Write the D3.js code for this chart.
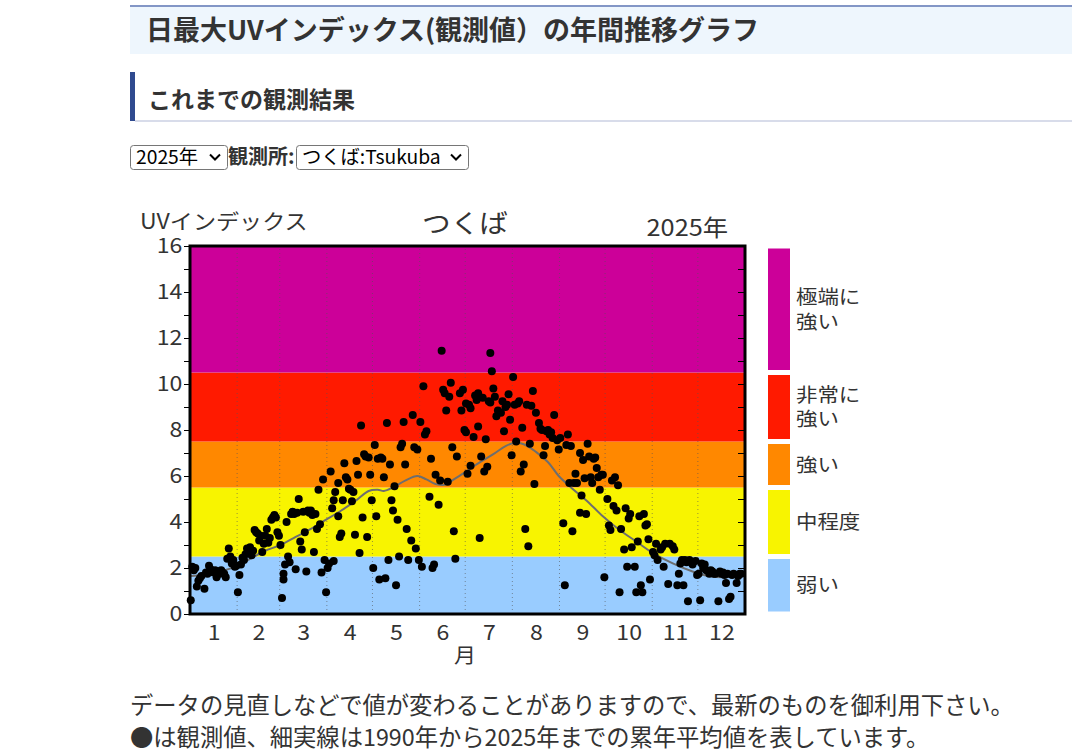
<!DOCTYPE html>
<html><head><meta charset="utf-8">
<script src="https://cdn.jsdelivr.net/npm/d3@7"></script>
<style>
html,body{margin:0;padding:0;background:#fff;}
svg{display:block;}
</style></head><body>
<svg id="c" width="1072" height="751"></svg>
<script>
// ---------- data ----------
const monthLabels = ["1","2","3","4","5","6","7","8","9","10","11","12"];
const monthStarts = [0,31,59,90,120,151,181,212,243,273,304,334,365];
const yTicks = d3.range(0, 17);
const bandLimits = [0, 2.5, 5.5, 7.5, 10.5, 16];
const bandColors = ["#99ccff", "#f8f400", "#ff8800", "#ff1a00", "#cc0099"];
const bandLabels = [["弱い"], ["中程度"], ["強い"], ["非常に","強い"], ["極端に","強い"]];

// observed daily max UV index (day of year, value)
const obsDays = [1,2,3,4,5,6,7,8,10,11,12,13,14,15,16,17,18,19,20,21,22,23,24,25,26,27,28,29,30,31,32,33,
34,35,36,37,38,39,40,41,42,43,44,45,46,47,48,49,50,51,52,53,54,55,56,57,58,59,60,61,62,62,63,
64,65,66,67,68,69,70,71,72,73,74,75,76,77,78,79,80,81,82,83,84,85,86,87,88,89,90,91,92,
93,94,95,95,96,98,98,99,100,101,102,103,104,105,106,107,108,109,110,111,112,113,114,115,116,117,118,119,120,121,122,123,124,125,126,127,128,129,130,131,132,133,134,135,136,137,138,139,140,141,142,143,144,146,147,148,149,150,151,152,153,154,155,156,158,159,160,161,162,164,165,166,167,168,169,170,171,172,173,174,175,176,178,179,180,181,182,183,
182,184,185,185,187,188,189,190,190,191,192,193,194,195,196,197,198,198,199,200,201,202,203,205,206,207,208,209,210,211,212,213,214,215,216,217,218,219,220,221,222,223,224,225,226,227,228,230,231,232,233,234,235,236,237,238,239,240,242,243,244,246,247,248,249,250,251,252,253,254,255,257,257,258,259,260,261,262,263,264,265,266,267,268,269,270,271,272,273,275,276,277,278,279,280,281,282,283,284,286,287,288,289,290,291,293,294,295,296,297,298,299,300,301,302,303,305,306,307,308,310,311,312,313,315,316,318,319,321,322,323,324,325,326,327,328,329,330,331,333,334,335,336,337,338,339,340,342,343,344,345,346,348,349,350,351,352,353,354,355,356,357,358,360,361,362,363];
const obsUV = [0.6,2.05,1.9,2.0,1.2,1.45,1.55,1.65,1.1,1.8,1.75,2.1,1.95,1.85,1.8,1.9,1.6,1.85,1.75,1.9,1.8,1.75,1.6,2.4,2.85,2.5,2.2,2.35,2.05,2.1,0.95,1.7,
2.15,2.45,2.35,2.6,2.85,2.7,2.9,2.55,2.75,3.65,3.55,3.5,3.2,3.4,2.7,3.05,3.4,3.7,3.1,3.3,4.1,4.2,4.3,4.2,3.55,3.4,3.0,0.7,1.75,1.5,2.15,
4.0,2.5,2.25,4.35,4.45,4.35,1.95,4.4,5.0,3.15,2.8,4.45,3.55,1.85,4.5,4.4,4.5,4.3,2.7,4.35,3.7,5.4,3.9,1.8,5.85,2.35,0.95,2.0,2.2,
6.2,4.6,2.3,4.95,5.3,5.7,4.25,3.35,3.5,4.95,6.55,5.95,5.85,5.45,5.4,4.9,5.3,3.45,6.65,6.05,2.65,8.2,4.2,6.95,6.85,3.35,6.8,6.05,4.95,2.0,7.35,4.25,6.75,1.5,6.8,6.75,5.95,1.55,8.3,2.35,6.5,4.95,4.5,5.55,1.25,4.1,2.5,7.25,7.4,8.35,6.5,3.7,2.35,3.2,8.65,7.25,2.85,7.15,2.35,8.35,2.05,9.9,7.8,7.95,5.1,6.75,2.0,2.15,6.05,4.75,5.8,11.45,9.75,9.6,8.85,5.75,9.45,10.05,7.25,3.6,2.4,6.85,9.6,8.85,9.75,8.0,9.15,6.1,
7.9,9.1,8.95,6.45,7.7,9.5,9.3,9.6,8.15,3.3,6.85,9.4,6.2,7.6,6.4,9.25,9.2,11.35,10.55,9.8,9.45,8.6,8.85,8.75,9.25,7.95,9.0,9.1,9.55,8.45,6.9,10.3,9.1,7.5,9.15,9.25,6.2,8.1,6.5,3.7,9.1,2.95,7.4,9.05,9.7,5.65,8.75,8.3,8.05,8.0,6.9,7.3,7.95,8.0,7.8,7.9,7.65,8.65,7.55,7.15,7.65,3.95,1.25,7.35,7.8,5.7,7.3,3.6,5.7,6.1,5.7,4.4,7.0,5.15,6.7,5.9,4.35,7.4,6.85,5.95,5.7,6.75,6.8,6.35,5.95,5.4,6.05,6.05,1.6,5.0,3.85,3.65,5.8,4.7,5.95,4.5,5.6,0.95,3.7,2.8,4.6,2.05,4.15,4.35,2.9,2.05,0.95,3.15,4.25,1.25,0.95,4.35,3.85,3.9,3.25,1.5,2.7,2.55,3.05,2.35,2.8,2.9,2.05,3.05,1.3,3.05,2.95,2.8,1.25,1.75,2.2,2.35,1.25,2.35,2.25,0.55,2.35,2.25,2.15,2.3,1.7,1.75,0.6,2.2,2.0,2.15,1.9,1.75,1.9,1.85,1.75,1.75,0.55,1.85,1.75,1.8,1.7,1.35,1.75,0.65,0.75,1.7,1.75,1.35,1.65,1.75,1.75];

// long-term (1990-2025) mean, read at selected days
const avgDays = [1,10,20,30,40,50,60,70,80,90,100,110,118,124,128,134,142,150,156,162,168,174,180,190,200,208,214,220,228,236,243,252,261,272,283,294,305,318,331,342,353,365];
const avgUV   = [1.65,1.72,1.85,2.05,2.4,2.75,3.0,3.35,3.7,4.1,4.5,4.95,5.35,5.4,5.35,5.5,5.8,6.0,5.85,5.65,5.62,5.85,6.1,6.55,6.95,7.3,7.45,7.38,7.05,6.6,6.0,5.45,4.95,4.25,3.65,3.15,2.65,2.2,1.85,1.65,1.6,1.72];

// ---------- drawing ----------
const FONT = "'Noto Sans CJK JP','Noto Sans',sans-serif";
const svg = d3.select("#c").style("font-family", FONT);
const SX = 1.1; // chart text horizontal stretch

// page header
svg.append("rect").attr("x",130).attr("y",5).attr("width",942).attr("height",2).attr("fill","#8396c6");
svg.append("rect").attr("x",130).attr("y",7).attr("width",942).attr("height",47).attr("fill","#eef6fd");
svg.append("text").attr("x",146).attr("y",40).attr("font-size",27).attr("font-weight","bold").attr("fill","#333")
  .text("日最大UVインデックス(観測値）の年間推移グラフ");

svg.append("rect").attr("x",130).attr("y",72).attr("width",5).attr("height",49).attr("fill","#2f4a8f");
svg.append("rect").attr("x",135).attr("y",120).attr("width",937).attr("height",2).attr("fill","#d8dcea");
svg.append("text").attr("x",148).attr("y",108).attr("font-size",23).attr("font-weight","bold").attr("fill","#333")
  .text("これまでの観測結果");

// select controls
function selectBox(x, w, label) {
  svg.append("rect").attr("x",x+0.5).attr("y",145.5).attr("width",w).attr("height",24).attr("rx",3)
    .attr("fill","#fff").attr("stroke","#767676");
  svg.append("text").attr("x",x+6).attr("y",164).attr("font-size",19.3).attr("fill","#000").text(label);
  const cx = x + w - 12, cy = 157;
  svg.append("path").attr("d",`M${cx-5},${cy-2.5}L${cx},${cy+2.5}L${cx+5},${cy-2.5}`)
    .attr("fill","none").attr("stroke","#000").attr("stroke-width",2);
}
selectBox(130, 97, "2025年");
svg.append("text").attr("x",228).attr("y",164).attr("font-size",20).attr("font-weight","bold").attr("fill","#333").text("観測所:");
selectBox(296, 172, "つくば:Tsukuba");

// chart
const x = d3.scaleLinear().domain([0,365]).range([190,745]);
const y = d3.scaleLinear().domain([0,16]).range([614,246]);
const chart = svg.append("g");

function stext(g, px, py, str, size, anchor) {
  return g.append("text").attr("transform",`translate(${px},${py}) scale(${SX},1)`)
    .attr("text-anchor",anchor||"start").attr("font-size",size).attr("fill","#333").text(str);
}

// bands
chart.selectAll("rect.band").data(bandColors).join("rect").attr("class","band")
  .attr("x",x(0)).attr("width",x(365)-x(0))
  .attr("y",(c,i)=>y(bandLimits[i+1])).attr("height",(c,i)=>y(bandLimits[i])-y(bandLimits[i+1]))
  .attr("fill",c=>c);

// month grid
chart.selectAll("line.grid").data(monthStarts.slice(1,12)).join("line").attr("class","grid")
  .attr("x1",d=>x(d)).attr("x2",d=>x(d)).attr("y1",y(0)).attr("y2",y(16))
  .attr("stroke","#555").attr("stroke-opacity",0.6).attr("stroke-dasharray","1,3");

// mean line
const avg = avgDays.map((d,i)=>[d,avgUV[i]]);
chart.append("path").datum(avg)
  .attr("d", d3.line().x(d=>x(d[0]-0.5)).y(d=>y(d[1])).curve(d3.curveCatmullRom.alpha(0.5)))
  .attr("fill","none").attr("stroke","#6e6e6e").attr("stroke-width",2);

// observations
const obs = obsDays.map((d,i)=>[d,obsUV[i]]);
chart.selectAll("circle.obs").data(obs).join("circle").attr("class","obs")
  .attr("cx",d=>x(d[0]-0.5)).attr("cy",d=>y(d[1])).attr("r",4).attr("fill","#000");

// axes
const yl = chart.append("g").attr("transform",`translate(${x(0)},0)`)
  .call(d3.axisLeft(y).tickValues(yTicks).tickSize(6).tickPadding(7).tickFormat(d=>d%2===0?d:""));
yl.select(".domain").remove();
yl.selectAll("line").attr("stroke","#000");
yl.selectAll("text").attr("font-size",21).attr("fill","#333").attr("font-family",FONT)
  .attr("x",-7).attr("transform",`scale(${SX},1)`);

const yr = chart.append("g").attr("transform",`translate(${x(365)},0)`)
  .call(d3.axisRight(y).tickValues(yTicks).tickSize(-7).tickFormat(""));
yr.select(".domain").remove();
yr.selectAll("line").attr("stroke","#000");

const mids = monthStarts.slice(0,12).map((s,i)=>(s+monthStarts[i+1])/2);
const xb = chart.append("g").attr("transform",`translate(0,${y(0)})`)
  .call(d3.axisBottom(x).tickValues(mids).tickSize(0).tickPadding(11).tickFormat((d,i)=>monthLabels[i]));
xb.select(".domain").remove();
xb.selectAll("text").attr("font-size",21).attr("fill","#333").attr("font-family",FONT)
  .attr("transform",`scale(${SX},1)`);

// frame
chart.append("rect").attr("x",x(0)).attr("y",y(16)).attr("width",x(365)-x(0)).attr("height",y(0)-y(16))
  .attr("fill","none").attr("stroke","#000").attr("stroke-width",3);

// titles
stext(chart, 140, 229, "UVインデックス", 21);
stext(chart, 465, 233, "つくば", 26, "middle");
stext(chart, 728, 236, "2025年", 23, "end");
stext(chart, 465, 663, "月", 20, "middle");

// legend
bandColors.forEach((c,i)=>{
  const top = y(bandLimits[i+1]) + 2.5, bot = y(bandLimits[i]) - 2.5;
  chart.append("rect").attr("x",768).attr("y",top).attr("width",22).attr("height",bot-top).attr("fill",c);
  const lines = bandLabels[i], mid = (top+bot)/2;
  lines.forEach((s,j)=>{
    stext(chart, 796, mid + (j-(lines.length-1)/2)*24.5 + 7, s, 19.5);
  });
});

// footer
svg.append("text").attr("x",130).attr("y",714).attr("font-size",23.3).attr("fill","#333")
  .text("データの見直しなどで値が変わることがありますので、最新のものを御利用下さい。");
svg.append("text").attr("x",130).attr("y",746).attr("font-size",23.3).attr("fill","#333")
  .text("●は観測値、細実線は1990年から2025年までの累年平均値を表しています。");
</script>
</body></html>
